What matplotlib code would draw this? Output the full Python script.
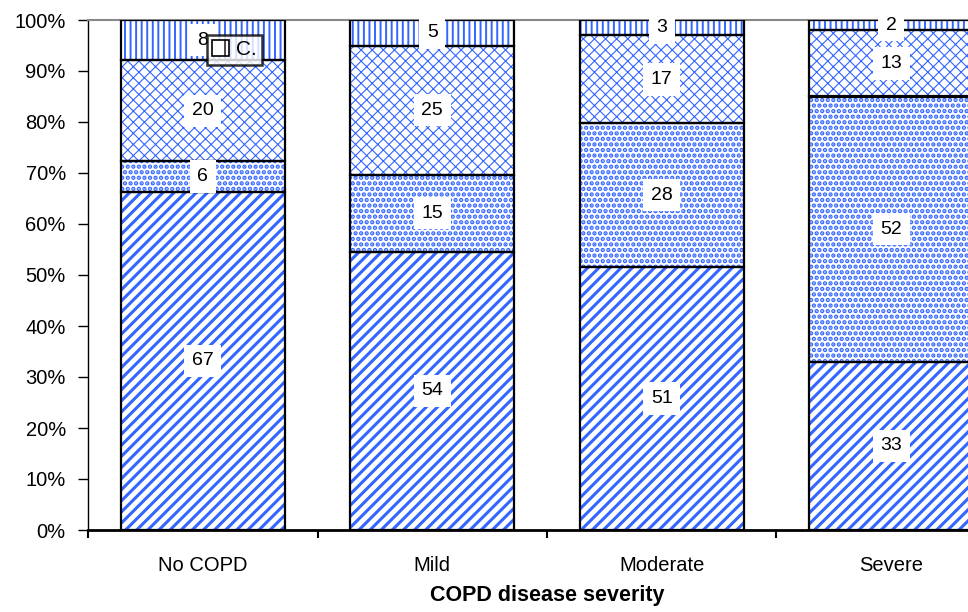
import matplotlib

matplotlib.use("Agg")

import matplotlib.pyplot as plt
import numpy as np
from matplotlib.patches import Patch
from matplotlib.ticker import PercentFormatter

plt.rcParams["font.family"] = ["Liberation Sans", "DejaVu Sans"]

categories = ["No COPD", "Mild", "Moderate", "Severe"]
seg_a = [67, 54, 51, 33]   # bottom, diagonal stripes
seg_b = [6, 15, 28, 52]    # dotted
seg_c = [20, 25, 17, 13]   # lattice
seg_d = [8, 5, 3, 2]       # vertical lines

series = [seg_a, seg_b, seg_c, seg_d]
hatches = ["///", "...", "xxx", "|||"]
hatch_lw = [2.2, 2.2, 0.8, 1.4]
blue = "#3366ff"

vals = np.array(series, dtype=float)
shares = vals / vals.sum(axis=0) * 100

fig = plt.figure(figsize=(9.68, 6.12), dpi=100)
ax = fig.add_axes([88 / 968, 82 / 612, 918 / 968, 510 / 612])

x = np.arange(len(categories))
width = 0.715
bottom = np.zeros(len(categories))
for raw, share, hatch, hlw in zip(vals, shares, hatches, hatch_lw):
    with plt.rc_context({"hatch.linewidth": hlw}):
        bars = ax.bar(x, share, width, bottom=bottom, color="white",
                      edgecolor=blue, hatch=hatch, linewidth=0, zorder=2)
    for p in bars:
        if hasattr(p, "set_hatch_linewidth"):
            p.set_hatch_linewidth(hlw)
    ax.bar(x, share, width, bottom=bottom, color="none", edgecolor="black",
           linewidth=1.6, zorder=3)
    for xi, b, s, r in zip(x, bottom, share, raw):
        ax.text(xi, b + s / 2, f"{int(r)}", ha="center", va="center",
                fontsize=14, zorder=5,
                bbox=dict(boxstyle="square,pad=0.4", facecolor="white",
                          edgecolor="none"))
    bottom += share

ax.set_xlim(-0.5, len(categories) - 0.5)
ax.set_ylim(0, 100)
ax.yaxis.set_major_formatter(PercentFormatter(decimals=0))
ax.set_yticks(np.arange(0, 101, 10))
ax.tick_params(axis="y", labelsize=14.5, length=7, width=1, direction="out", pad=9)

ax.set_xticks(x)
ax.set_xticklabels(categories, fontsize=14.5)
ax.set_xticks(np.arange(-0.5, len(categories), 1.0), minor=True)
ax.tick_params(axis="x", which="major", length=0, pad=19)
ax.tick_params(axis="x", which="minor", length=6, width=1.5, direction="out")
ax.set_xlabel("COPD disease severity", fontsize=15.5, fontweight="bold", labelpad=7)

ax.spines["right"].set_visible(False)
ax.spines["top"].set_color("#888888")
ax.spines["top"].set_linewidth(1.5)
ax.spines["left"].set_linewidth(1)
ax.spines["bottom"].set_linewidth(2)

# partial legend box in the top corner of the first bar
with plt.rc_context({"hatch.linewidth": 1.2}):
    handle = Patch(facecolor="white", edgecolor="black", hatch="|", linewidth=1.2)
leg = fig.legend(
    handles=[handle], labels=["C."], loc="upper left",
    bbox_to_anchor=(207 / 968, 1 - 35 / 612),
    frameon=True, fancybox=False, edgecolor="black", fontsize=15,
    handlelength=0.8, handleheight=0.8, handletextpad=0.35, borderpad=0.25,
    borderaxespad=0,
)
leg.get_frame().set_linewidth(1.8)
leg.set_zorder(6)

fig.savefig("out.png", dpi=100)
